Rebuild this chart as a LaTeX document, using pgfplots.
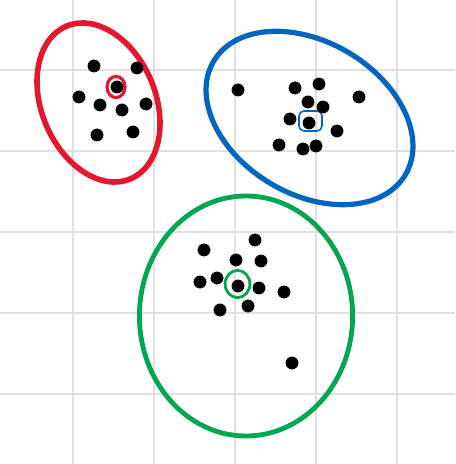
\documentclass[border=0pt]{standalone}
\usepackage{pgfplots}
\pgfplotsset{compat=1.18}
\definecolor{cred}{RGB}{227,24,44}
\definecolor{cblue}{RGB}{0,102,191}
\definecolor{cgreen}{RGB}{0,166,81}
\begin{document}
\begin{tikzpicture}
\begin{axis}[
  x=0.5pt, y=0.5pt,
  xmin=0, xmax=455, ymin=0, ymax=464,
  axis line style={draw=none},
  xtick={73,154,235,316,397}, ytick={70,151,232,313,394},
  xticklabels={}, yticklabels={},
  major tick length=0pt,
  grid=major, grid style={black!12, line width=1pt},
]
% red cluster
\addplot[only marks, mark=*, mark size=3pt, black] coordinates {
  (94,398) (137,396) (117,377) (79,367) (100,359) (122,354) (146,360) (97,329) (133,332)};
% blue cluster
\addplot[only marks, mark=*, mark size=3pt, black] coordinates {
  (238,374) (295,376) (319,380) (359,367) (308,362) (323,357) (290,345) (309,341)
  (337,333) (279,319) (303,315) (316,318)};
% green cluster
\addplot[only marks, mark=*, mark size=3pt, black] coordinates {
  (204,214) (255,224) (236,204) (261,203) (200,182) (217,186) (238,178) (259,176)
  (284,172) (220,154) (248,158) (292,101)};

% cluster outlines
\draw[cred, line width=2.8pt, rotate around={22.6:(axis cs:98.5,361.5)}]
  (axis cs:98.5,361.5) ellipse [x radius=28.5pt, y radius=41.4pt];
\draw[cblue, line width=2.6pt, rotate around={-30.6:(axis cs:309.5,346)}]
  (axis cs:309.5,346) ellipse [x radius=55.7pt, y radius=38.1pt];
\draw[cgreen, line width=2.4pt] (axis cs:246,148) ellipse [x radius=53.3pt, y radius=60pt];

% centroid markers
\draw[cred, line width=1.6pt] (axis cs:116,377) ellipse [x radius=4.5pt, y radius=5.3pt];
\draw[cblue, line width=0.8pt, rounded corners=2.5pt] (axis cs:299,353) rectangle (axis cs:322,333);
\draw[cgreen, line width=1.4pt] (axis cs:237.5,180) ellipse [x radius=6.2pt, y radius=6.8pt];
\end{axis}
\pgfresetboundingbox
\path (current axis.south west) rectangle (current axis.north east);
\end{tikzpicture}
\end{document}
